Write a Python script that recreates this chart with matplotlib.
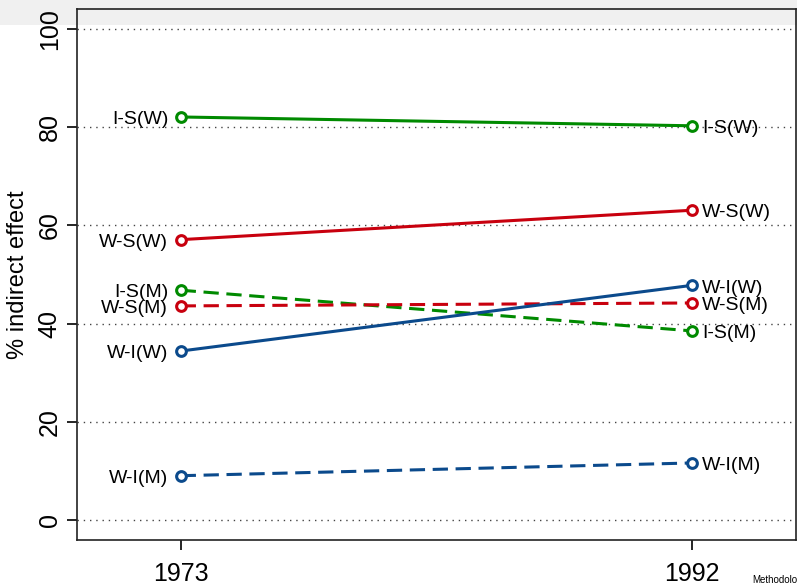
# % indirect effect, 1973 vs 1992, by pathway and sex
import matplotlib.pyplot as plt
from matplotlib.patches import Rectangle

plt.rcParams['font.family'] = ['Liberation Sans', 'DejaVu Sans']

years = [1973, 1992]
series_names = ['I-S(W)', 'W-S(W)', 'I-S(M)', 'W-S(M)', 'W-I(W)', 'W-I(M)']
values = {
    'I-S(W)': [82.1, 80.3],
    'W-S(W)': [57.1, 63.1],
    'I-S(M)': [46.8, 38.5],
    'W-S(M)': [43.6, 44.2],
    'W-I(W)': [34.4, 47.8],
    'W-I(M)': [9.0, 11.6],
}
yticks = [0, 20, 40, 60, 80, 100]

green = '#008a00'
red = '#c8000e'
navy = '#0b4a8c'
styles = {
    'I-S(W)': (green, '-'),
    'W-S(W)': (red, '-'),
    'I-S(M)': (green, (0, (5, 2.5))),
    'W-S(M)': (red, (0, (5, 2.5))),
    'W-I(W)': (navy, '-'),
    'W-I(M)': (navy, (0, (5, 2.5))),
}

W, H = 797, 586
fig = plt.figure(figsize=(W / 100, H / 100), dpi=100)
# gray header band, behind the axes
fig.patches.append(Rectangle((0, 1 - 25 / H), 1, 25 / H, transform=fig.transFigure,
                             facecolor='#f0f0f0', edgecolor='none', zorder=-5))

ax = fig.add_axes([77 / W, (H - 540) / H, (796 - 77) / W, (540 - 9) / H])
ax.set_facecolor('none')

for name in series_names:
    c, ls = styles[name]
    ax.plot(years, values[name], color=c, linestyle=ls, linewidth=2.2,
            marker='o', markersize=7, markerfacecolor='white',
            markeredgecolor=c, markeredgewidth=2.2, zorder=3)
    ax.annotate(name, (years[0], values[name][0]), xytext=(-9, -2),
                textcoords='offset points', ha='right', va='center', fontsize=14)
    ax.annotate(name, (years[1], values[name][1]), xytext=(7, -2),
                textcoords='offset points', ha='left', va='center', fontsize=14)

ax.set_xlim(1969.15, 1995.85)
ax.set_ylim(-4.1, 104.1)
ax.set_xticks(years)
ax.set_yticks(yticks)
ax.set_yticklabels([str(t) for t in yticks], rotation=90, va='center')
ax.tick_params(axis='both', labelsize=18, length=7, width=1.2, colors='black')
ax.tick_params(axis='x', pad=9)
ax.tick_params(axis='y', pad=4)
for y in yticks:
    ax.axhline(y, color='#444444', linestyle=(0, (1, 3.5)), linewidth=1.0, zorder=1)
for s in ax.spines.values():
    s.set_linewidth(1.2)
    s.set_color('#222222')
ax.set_ylabel('% indirect effect', fontsize=17, labelpad=6)

fig.text(752 / W, 1 - 585 / H, 'Methodology', fontsize=7, ha='left', va='bottom')

fig.savefig('out.png', dpi=100)
